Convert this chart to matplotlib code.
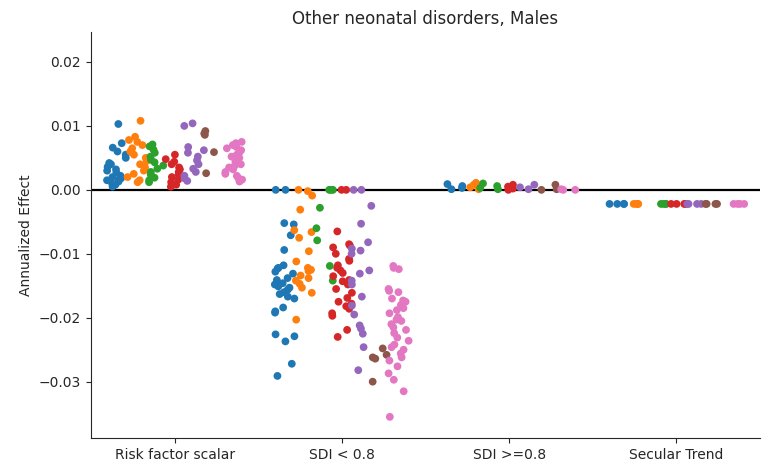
import numpy as np
import pandas as pd
import matplotlib
matplotlib.use("Agg")
import matplotlib.pyplot as plt
import seaborn as sns

categories = ['Risk factor scalar', 'SDI < 0.8', 'SDI >=0.8', 'Secular Trend']
groups = ['Central Europe, Eastern Europe, and Central Asia', 'High-income',
          'Latin America and Caribbean', 'North Africa and Middle East',
          'South Asia', 'Southeast Asia, East Asia, and Oceania',
          'Sub-Saharan Africa']

# one list of values per group, for each effect
risk_factor = [
    [0.0103, 0.0073, 0.0066, 0.0060, 0.0055, 0.0050, 0.0042, 0.0040, 0.0036, 0.0032,
     0.0030, 0.0027, 0.0022, 0.0020, 0.0018, 0.0016, 0.0015, 0.0013, 0.0010, 0.0008, 0.0005],
    [0.0108, 0.0083, 0.0078, 0.0075, 0.0070, 0.0065, 0.0060, 0.0055, 0.0050, 0.0045,
     0.0040, 0.0035, 0.0030, 0.0025, 0.0020, 0.0015, 0.0012],
    [0.0071, 0.0068, 0.0063, 0.0058, 0.0052, 0.0047, 0.0043, 0.0038, 0.0033, 0.0028,
     0.0024, 0.0019, 0.0015, 0.0012],
    [0.0055, 0.0048, 0.0044, 0.0040, 0.0035, 0.0032, 0.0028, 0.0024, 0.0020, 0.0016,
     0.0012, 0.0008, 0.0005],
    [0.0104, 0.0100, 0.0067, 0.0062, 0.0058, 0.0052, 0.0046, 0.0040, 0.0033, 0.0028,
     0.0022, 0.0018, 0.0014],
    [0.0092, 0.0088, 0.0086, 0.0059, 0.0026],
    [0.0075, 0.0073, 0.0070, 0.0067, 0.0065, 0.0062, 0.0058, 0.0055, 0.0052, 0.0050,
     0.0047, 0.0044, 0.0040, 0.0038, 0.0035, 0.0032, 0.0028, 0.0025, 0.0022, 0.0019,
     0.0016, 0.0013],
]
sdi_low = [
    [0.0, 0.0, -0.0052, -0.0054, -0.0071, -0.0094, -0.0118, -0.0122, -0.0123, -0.0128,
     -0.0131, -0.0138, -0.0141, -0.0146, -0.0148, -0.0151, -0.0153, -0.0156, -0.0160,
     -0.0163, -0.0167, -0.0170, -0.0184, -0.0190, -0.0192, -0.0226, -0.0229, -0.0237,
     -0.0272, -0.0291],
    [0.0, -0.0002, -0.0009, -0.0031, -0.0063, -0.0066, -0.0075, -0.0096, -0.0112, -0.0122,
     -0.0125, -0.0127, -0.0134, -0.0138, -0.0142, -0.0147, -0.0153, -0.0161, -0.0203],
    [0.0, 0.0, 0.0, -0.0028, -0.0060, -0.0079, -0.0119, -0.0142],
    [0.0, 0.0, -0.0065, -0.0085, -0.0087, -0.0090, -0.0100, -0.0108, -0.0111, -0.0118,
     -0.0122, -0.0126, -0.0130, -0.0135, -0.0141, -0.0143, -0.0148, -0.0155, -0.0161,
     -0.0169, -0.0175, -0.0178, -0.0182, -0.0186, -0.0193, -0.0197, -0.0219, -0.0230],
    [0.0, 0.0, -0.0025, -0.0053, -0.0082, -0.0092, -0.0095, -0.0100, -0.0126, -0.0131,
     -0.0142, -0.0148, -0.0167, -0.0181, -0.0195, -0.0212, -0.0217, -0.0225, -0.0246,
     -0.0282],
    [-0.0248, -0.0262, -0.0264, -0.0258, -0.0300],
    [-0.0119, -0.0122, -0.0124, -0.0155, -0.0158, -0.0160, -0.0170, -0.0173, -0.0175,
     -0.0180, -0.0185, -0.0188, -0.0193, -0.0199, -0.0203, -0.0205, -0.0210, -0.0215,
     -0.0219, -0.0224, -0.0231, -0.0236, -0.0242, -0.0246, -0.0250, -0.0256, -0.0262,
     -0.0267, -0.0276, -0.0287, -0.0297, -0.0315, -0.0355],
]
sdi_high = [
    [0.0009, 0.0006, 0.0003, 0.0001],
    [0.0011, 0.0008, 0.0004, 0.0001],
    [0.0010, 0.0006, 0.0003, 0.0001],
    [0.0008, 0.0005, 0.0002, 0.0000],
    [0.0008, 0.0004, 0.0001],
    [0.0008, 0.0001, 0.0000],
    [0.0001, 0.0000, 0.0000],
]
secular = [
    [-0.0022, -0.0022, -0.0022, -0.0022],
    [-0.0022, -0.0022, -0.0022, -0.0022],
    [-0.0022, -0.0022, -0.0022, -0.0022],
    [-0.0022, -0.0022, -0.0022, -0.0022],
    [-0.0022, -0.0022, -0.0022, -0.0022],
    [-0.0022, -0.0022, -0.0022, -0.0022],
    [-0.0022, -0.0022, -0.0022, -0.0022],
]

rows = []
for cat, per_group in zip(categories, [risk_factor, sdi_low, sdi_high, secular]):
    for grp, vals in zip(groups, per_group):
        for v in vals:
            rows.append((cat, grp, v))
df = pd.DataFrame(rows, columns=['effect', 'group', 'value'])

sns.set_style('ticks')
fig = plt.figure(figsize=(7.67, 4.75), dpi=100)
ax = fig.add_axes([0.1186, 0.078, 0.8724, 0.8548])

np.random.seed(3)
sns.stripplot(data=df, x='effect', y='value', hue='group', order=categories,
              hue_order=groups, dodge=True, jitter=0.45, size=5.6,
              palette=sns.color_palette('tab10', 7), ax=ax, legend=False)
ax.axhline(0, color='k', lw=1.6, zorder=0.5)

ax.set_xlim(-0.5, 3.5)
ax.set_ylim(-0.0388, 0.0247)
ax.set_yticks([-0.03, -0.02, -0.01, 0.0, 0.01, 0.02])
ax.set_xlabel('')
ax.set_ylabel('Annualized Effect')
ax.set_title('Other neonatal disorders, Males', fontsize=12)
sns.despine(ax=ax)

fig.savefig('out.png', dpi=100)
